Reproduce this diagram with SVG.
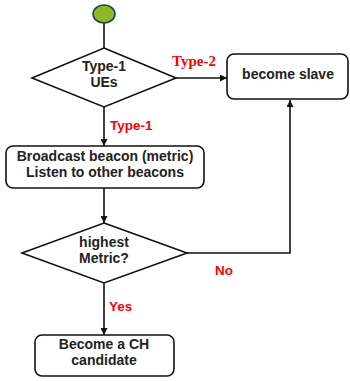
<svg xmlns="http://www.w3.org/2000/svg" width="350" height="381" viewBox="0 0 350 381">
<defs>
<marker id="ah" viewBox="0 0 10 10" refX="10" refY="5" markerWidth="7" markerHeight="7" markerUnits="userSpaceOnUse" orient="auto"><path d="M0,0 L10,5 L0,10 z" fill="#111"/></marker>
<style>
.n{fill:#fff;stroke:#111;stroke-width:1.6}
.t{font-family:"Liberation Sans",Arial,sans-serif;font-weight:bold;font-size:14px;fill:#222;text-anchor:middle}
.r{font-family:"Liberation Sans",Arial,sans-serif;font-weight:bold;font-size:13.5px;fill:#f00}
.rs{font-family:"Liberation Serif","Times New Roman",serif;font-weight:bold;font-size:15px;fill:#f00}
.c{fill:none;stroke:#111;stroke-width:1.6}
</style>
</defs>
<rect width="350" height="381" fill="#fff"/>
<g id="connectors">
<path class="c" d="M104,23 V48"/>
<path class="c" d="M176,78 H227" marker-end="url(#ah)"/>
<path class="c" d="M104,107 V146" marker-end="url(#ah)"/>
<path class="c" d="M104,188 V223" marker-end="url(#ah)"/>
<path class="c" d="M187,253 H290 V100" marker-end="url(#ah)"/>
<path class="c" d="M104,283 V335" marker-end="url(#ah)"/>
<text class="rs" x="172" y="66">Type-2</text>
<text class="r" x="110" y="130">Type-1</text>
<text class="r" x="215" y="275">No</text>
<text class="r" x="109" y="311">Yes</text>
</g>
<g id="start"><ellipse cx="104" cy="14" rx="11" ry="9" fill="#8cb820" stroke="#1f3864" stroke-width="1.5"/></g>
<g id="d1"><polygon class="n" points="104,48 176,78 104,107 32,78"/>
<text class="t" x="104" y="71">Type-1</text><text class="t" x="104" y="87">UEs</text></g>
<g id="slave"><rect class="n" x="227" y="54" width="121" height="45" rx="7"/>
<text class="t" x="288" y="79">become slave</text></g>
<g id="broadcast"><rect class="n" x="6" y="146" width="198" height="42" rx="7"/>
<text class="t" x="105" y="161">Broadcast beacon (metric)</text><text class="t" x="105" y="177">Listen to other beacons</text></g>
<g id="d2"><polygon class="n" points="104,223 187,253 104,283 22,253"/>
<text class="t" x="104" y="247">highest</text><text class="t" x="104" y="263">Metric?</text></g>
<g id="ch"><rect class="n" x="35" y="335" width="139" height="41" rx="7"/>
<text class="t" x="104" y="349">Become a CH</text><text class="t" x="104" y="365">candidate</text></g>
</svg>
